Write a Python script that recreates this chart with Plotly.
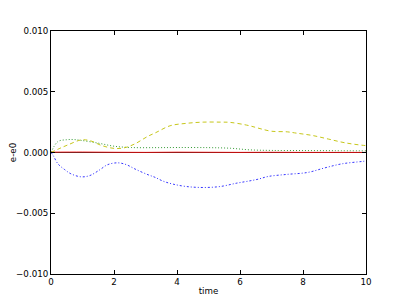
import plotly.graph_objects as go

# data
t_green = [0, 0.22, 0.5, 0.7, 0.95, 1.5, 2.0, 2.55, 3.3, 4.0, 5.0, 5.7, 6.3, 7.0, 8.0, 9.0, 10.0]
e_green = [0, 0.0009, 0.00105, 0.00107, 0.001, 0.00077, 0.00052, 0.00041, 0.0004, 0.00041, 0.0004, 0.00035,
           0.00022, 0.00017, 0.00016, 0.00015, 0.00014]

t_yellow = [0, 0.28, 0.54, 0.97, 1.27, 1.6, 2.03, 2.35, 2.67, 3.08, 3.33, 3.78, 4.3, 4.83, 5.37, 5.68, 6.2,
            6.48, 6.7, 7.0, 7.5, 7.8, 8.3, 8.8, 9.33, 9.87, 10.0]
e_yellow = [0, 0.00034, 0.00063, 0.00104, 0.00095, 0.00058, 0.00033, 0.0004, 0.00072, 0.00134, 0.00164, 0.0022,
            0.0024, 0.0025, 0.0025, 0.00248, 0.00226, 0.00208, 0.00192, 0.00175, 0.0017, 0.00159, 0.0014,
            0.00111, 0.0008, 0.0006, 0.00057]

t_blue = [0, 0.07, 0.22, 0.43, 0.63, 0.95, 1.23, 1.55, 1.8, 2.12, 2.38, 2.7, 3.08, 3.3, 3.56, 3.87, 4.3, 4.83,
          5.37, 5.9, 6.32, 6.57, 6.9, 7.5, 8.15, 8.7, 9.24, 9.87, 10.0]
e_blue = [0, -0.00025, -0.00093, -0.0014, -0.00175, -0.002, -0.0019, -0.00142, -0.001, -0.00085, -0.00099,
          -0.0014, -0.00183, -0.00204, -0.00236, -0.0026, -0.0028, -0.00288, -0.0028, -0.00252, -0.00233,
          -0.0022, -0.00197, -0.0018, -0.00164, -0.00126, -0.00093, -0.00074, -0.0007]

t_red = [0, 1, 2, 3, 4, 5, 6, 7, 8, 9, 10]
e_red = [0.00003, 0.00004, 0.00002, 0.00001, 0.00003, 0.00002, 0.00001, 0.00002, 0.00001, 0.00001, 0.00001]

t_black = [0, 10]
e_black = [0, 0]

x_ticks = [0, 2, 4, 6, 8, 10]
y_ticks = [-0.01, -0.005, 0.0, 0.005, 0.01]
y_tick_text = ["\u22120.010", "\u22120.005", "0.000", "0.005", "0.010"]

fig = go.Figure()
fig.add_trace(go.Scatter(x=t_black, y=e_black, mode="lines", line=dict(color="black", width=0.8)))
fig.add_trace(go.Scatter(x=t_red, y=e_red, mode="lines",
                         line=dict(color="#ff0000", width=0.8, shape="spline")))
fig.add_trace(go.Scatter(x=t_green, y=e_green, mode="lines",
                         line=dict(color="#008000", width=0.8, dash="1px,2px", shape="spline")))
fig.add_trace(go.Scatter(x=t_yellow, y=e_yellow, mode="lines",
                         line=dict(color="#bfbf00", width=0.9, dash="4px,3px", shape="spline")))
fig.add_trace(go.Scatter(x=t_blue, y=e_blue, mode="lines",
                         line=dict(color="#0000ff", width=0.8, dash="2px,2px,1px,2px", shape="spline")))

font = dict(family="DejaVu Sans", size=8.7, color="black")
# the page body has a default 8px margin, so the figure is sized/offset to compensate
fig.update_layout(
    width=399, height=297,
    margin=dict(l=43, r=41, t=23, b=31),
    paper_bgcolor="white", plot_bgcolor="white",
    showlegend=False,
    font=font,
    xaxis=dict(range=[0, 10], tickvals=x_ticks, ticktext=[str(v) for v in x_ticks],
               automargin=False,
               showgrid=False, zeroline=False, showline=True, linecolor="black", linewidth=1,
               mirror="ticks", ticks="inside", ticklen=4, tickcolor="black",
               title=dict(text="time", font=font, standoff=1)),
    yaxis=dict(range=[-0.01, 0.01], tickvals=y_ticks, ticktext=y_tick_text,
               automargin=False,
               showgrid=False, zeroline=False, showline=True, linecolor="black", linewidth=1,
               mirror="ticks", ticks="inside", ticklen=4, tickcolor="black",
               title=dict(text="e-e0", font=font, standoff=4)),
)
fig.write_html("out.html")
